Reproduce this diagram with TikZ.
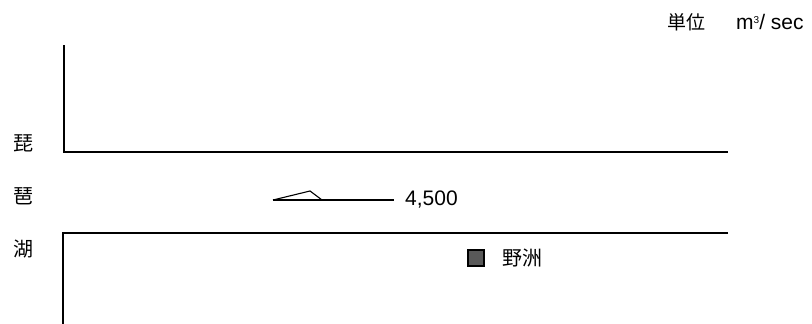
\documentclass[tikz,border=0pt]{standalone}
\usepackage{fontspec}
\setmainfont{Liberation Sans}
\newfontfamily\jp{Noto Sans CJK JP}
\tikzset{
  wall/.style={line width=1.8pt, line join=miter},
  flow/.style={line width=1.1pt},
  jplabel/.style={inner sep=0pt, font=\jp\fontsize{19}{19}\selectfont},
  numlabel/.style={inner sep=0pt, font=\fontsize{21}{21}\selectfont},
  legendbox/.style={draw=black, line width=1.5pt, fill=black!65, minimum size=16pt, inner sep=0pt}
}
\begin{document}
\begin{tikzpicture}[x=1pt,y=-1pt]
\useasboundingbox (0,0) rectangle (812,324);
% unit
\node[jplabel, anchor=center] (unitjp) at (686,22) {単位};
\node[numlabel, anchor=west] (unit) at (736,22) {m\raisebox{6pt}{\fontsize{10}{10}\selectfont 3}/ sec};
% lake labels
\node[jplabel, font=\jp\fontsize{20}{20}\selectfont] (bi) at (23,143) {琵};
\node[jplabel, font=\jp\fontsize{20}{20}\selectfont] (wa) at (23,196) {琶};
\node[jplabel, font=\jp\fontsize{20}{20}\selectfont] (ko) at (23,249) {湖};
% channel walls
\coordinate (t1) at (64,45);
\coordinate (t2) at (64,152);
\coordinate (t3) at (728,152);
\draw[wall] (t1) -- (t2) -- (t3);
\coordinate (b1) at (728,233);
\coordinate (b2) at (63,233);
\coordinate (b3) at (63,324);
\draw[wall] (b1) -- (b2) -- (b3);
% flow arrow
\coordinate (tip) at (273,200);
\coordinate (top) at (310,191);
\coordinate (back) at (322,200);
\node[numlabel, anchor=west] (q) at (405,200) {4,500};
\draw[flow] (tip) -- (top) -- (back);
\draw[flow, line width=1.4pt] (tip) -- (back) -- ([xshift=-11pt]q.west);
% legend
\node[legendbox] (sq) at (476,258) {};
\node[jplabel, font=\jp\fontsize{20}{20}\selectfont, anchor=west] (yasu) at (502,258) {野洲};
\end{tikzpicture}
\end{document}
